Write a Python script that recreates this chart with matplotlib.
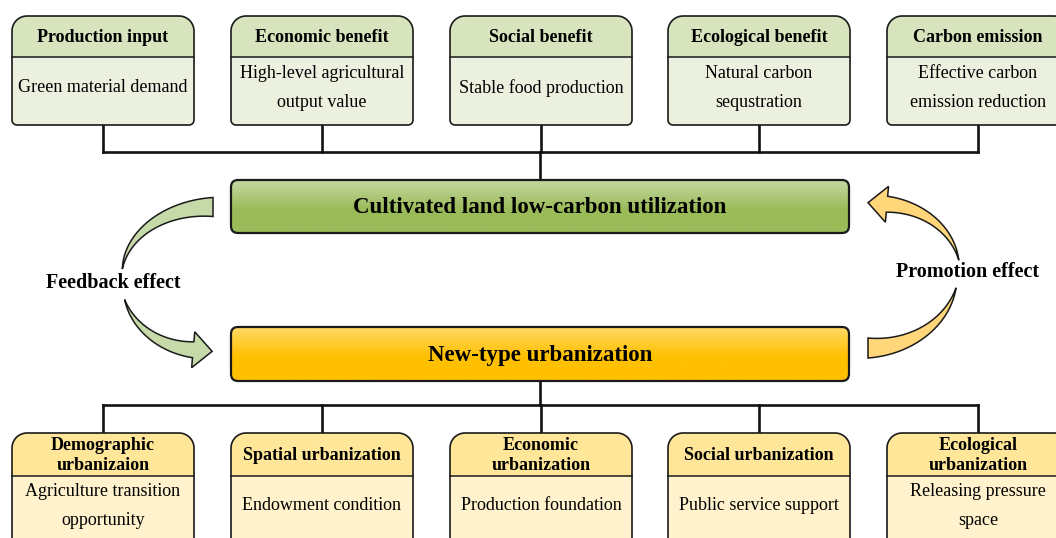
import numpy as np
import matplotlib
matplotlib.use('Agg')
import matplotlib.pyplot as plt
from matplotlib.patches import Polygon, FancyBboxPatch

plt.rcParams['font.family'] = ['Liberation Serif', 'DejaVu Serif']

# top row: benefits of cultivated land low-carbon utilization
top_heads = ['Production input', 'Economic benefit', 'Social benefit',
             'Ecological benefit', 'Carbon emission']
top_bodies = ['Green material demand', 'High-level agricultural\noutput value',
              'Stable food production', 'Natural carbon\nsequstration',
              'Effective carbon\nemission reduction']

# bottom row: dimensions of new-type urbanization
bot_heads = ['Demographic\nurbanizaion', 'Spatial urbanization', 'Economic\nurbanization',
             'Social urbanization', 'Ecological\nurbanization']
bot_bodies = ['Agriculture transition\nopportunity', 'Endowment condition',
              'Production foundation', 'Public service support',
              'Releasing pressure\nspace']

center_top = 'Cultivated land low-carbon utilization'
center_bot = 'New-type urbanization'
left_label = 'Feedback effect'
right_label = 'Promotion effect'

W, H = 1056, 538
fig = plt.figure(figsize=(W / 100, H / 100), dpi=100)
ax = fig.add_axes([0, 0, 1, 1])
ax.set_xlim(0, W)
ax.set_ylim(H, 0)
ax.axis('off')


def rounded_poly(x0, y0, x1, y1, rt, rb, n=12):
    # rectangle with top corner radius rt and bottom corner radius rb (y grows down)
    pts = []
    for cx, cy, r, a0, a1 in [(x0 + rt, y0 + rt, rt, 180, 270),
                              (x1 - rt, y0 + rt, rt, 270, 360),
                              (x1 - rb, y1 - rb, rb, 0, 90),
                              (x0 + rb, y1 - rb, rb, 90, 180)]:
        a = np.radians(np.linspace(a0, a1, n))
        pts += list(zip(cx + r * np.cos(a), cy + r * np.sin(a)))
    return np.array(pts)


def split_box(x0, y0, x1, y1, ydiv, head, hcol, bcol):
    outline = rounded_poly(x0, y0, x1, y1, 15, 5)
    ax.add_patch(Polygon(outline, closed=True, fc=bcol, ec='none', zorder=2))
    top = rounded_poly(x0, y0, x1, ydiv, 15, 0.001)
    ax.add_patch(Polygon(top, closed=True, fc=hcol, ec='none', zorder=2))
    ax.plot([x0, x1], [ydiv, ydiv], color='#1a1a1a', lw=1.1, zorder=3)
    ax.add_patch(Polygon(outline, closed=True, fc='none', ec='#1a1a1a', lw=1.2, zorder=4))
    xc = (x0 + x1) / 2
    ax.text(xc, (y0 + ydiv) / 2 + 1, head, ha='center', va='center', fontsize=13,
            fontweight='bold', linespacing=1.3, zorder=5)
    return xc


def grad_box(x0, y0, x1, y1, c_top, c_bot, label):
    patch = FancyBboxPatch((x0, y0), x1 - x0, y1 - y0,
                           boxstyle='round,pad=0,rounding_size=7',
                           fc='none', ec='#1a1a1a', lw=1.6, zorder=4)
    ax.add_patch(patch)
    ct = np.array(matplotlib.colors.to_rgb(c_top))
    cb = np.array(matplotlib.colors.to_rgb(c_bot))
    t = np.linspace(0, 1, 100)
    t = np.clip(t * 1.8, 0, 1)[:, None]
    img = (ct * (1 - t) + cb * t)[:, None, :]
    im = ax.imshow(img, extent=(x0, x1, y1, y0), aspect='auto', zorder=3)
    im.set_clip_path(patch)
    ax.text((x0 + x1) / 2, (y0 + y1) / 2 + 1, label, ha='center', va='center',
            fontsize=16.5, fontweight='bold', zorder=5)


def arc_arrow(cx, cy, rx, ry, a0, a1, w0, w1, fc, head=0, hl=0):
    a = np.radians(np.linspace(a0, a1, 60))
    w = np.linspace(w0, w1, 60)
    px = cx + rx * np.cos(a)
    py = cy + ry * np.sin(a)
    outer = np.column_stack([px + w / 2 * np.cos(a), py + w / 2 * np.sin(a)])
    inner = np.column_stack([px - w / 2 * np.cos(a), py - w / 2 * np.sin(a)])
    pts = list(outer)
    if head:
        d = np.array([px[-1] - px[-2], py[-1] - py[-2]])
        d /= np.hypot(*d)
        nrm = np.array([np.cos(a[-1]), np.sin(a[-1])])
        base = np.array([px[-1], py[-1]])
        pts += [base + head * nrm, base + hl * d, base - head * nrm]
    pts += list(inner[::-1])
    ax.add_patch(Polygon(np.array(pts), closed=True, fc=fc, ec='#1a1a1a',
                         lw=1.1, zorder=3))


xs = [12, 231, 450, 668, 887]
bw = 182

# top boxes
top_c = []
for i in range(5):
    xc = split_box(xs[i], 16, xs[i] + bw, 125, 57, top_heads[i],
                   '#d7e4bd', '#ebf1de')
    top_c.append(xc)
    ax.text(xc, 88, top_bodies[i], ha='center', va='center', fontsize=13,
            linespacing=1.85, zorder=5)

# bottom boxes
bot_c = []
for i in range(5):
    xc = split_box(xs[i], 433, xs[i] + bw, 560, 476, bot_heads[i],
                   '#ffe699', '#fff2cc')
    bot_c.append(xc)
    ax.text(xc, 506, bot_bodies[i], ha='center', va='center', fontsize=13,
            linespacing=1.85, zorder=5)

# connectors
lc = dict(color='#111111', lw=1.9, zorder=1, solid_capstyle='projecting')
ax.plot([top_c[0], top_c[-1]], [152, 152], **lc)
for xc in top_c:
    ax.plot([xc, xc], [125, 152], **lc)
ax.plot([540, 540], [152, 180], **lc)
ax.plot([bot_c[0], bot_c[-1]], [405, 405], **lc)
for xc in bot_c:
    ax.plot([xc, xc], [405, 433], **lc)
ax.plot([540, 540], [381, 405], **lc)

# central boxes
grad_box(231, 180, 849, 233, '#c4d8a0', '#9bbb59', center_top)
grad_box(231, 327, 849, 381, '#ffd966', '#ffc000', center_bot)

# curved arrows
arc_arrow(213, 275, 91, 68, 270, 185, 19, 0, '#c6d9a8')
arc_arrow(200, 282, 78, 68, 165, 95, 0, 16, '#c6d9a8', head=18, hl=19)
arc_arrow(868, 272, 90, 76, 12, 90, 0, 20, '#ffd77a')
arc_arrow(880, 272, 80, 68, -10, -85, 0, 16, '#ffd77a', head=18, hl=19)

ax.text(113, 283, left_label, ha='center', va='center', fontsize=14.5, fontweight='bold')
ax.text(968, 272, right_label, ha='center', va='center', fontsize=14.5, fontweight='bold')

fig.savefig('out.png', dpi=100)
